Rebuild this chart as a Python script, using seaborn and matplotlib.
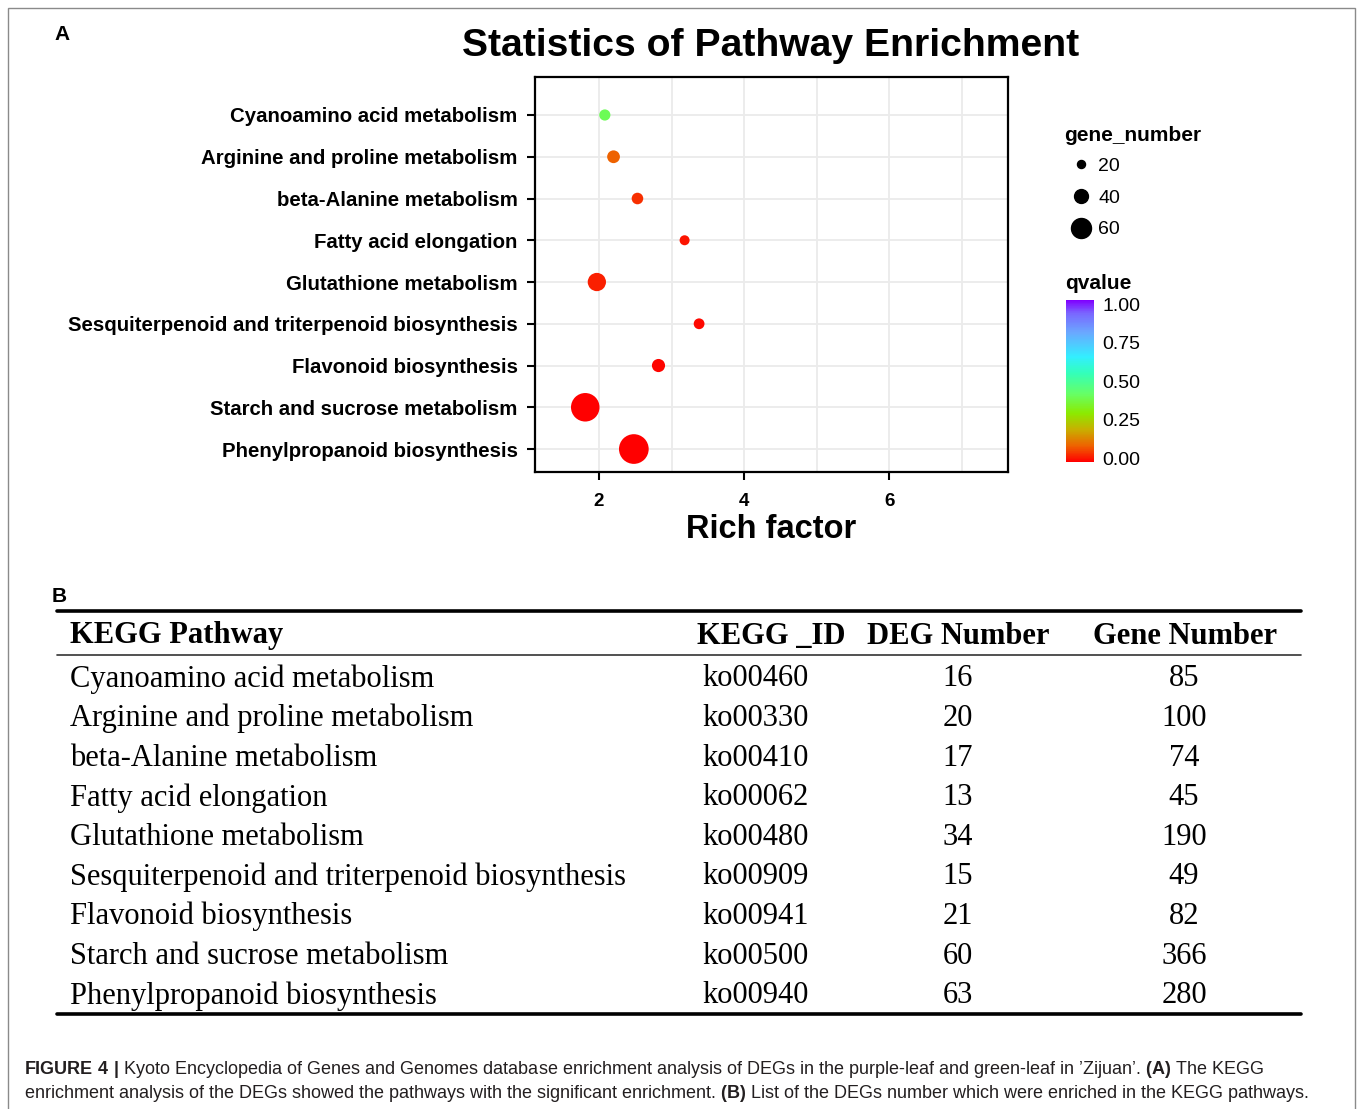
import numpy as np
import pandas as pd
import matplotlib
matplotlib.use("Agg")
import matplotlib.pyplot as plt
import seaborn as sns
from matplotlib.colors import LinearSegmentedColormap, Normalize
from matplotlib.cm import ScalarMappable
from matplotlib.lines import Line2D
from matplotlib.patches import Rectangle

# ---------------- data ----------------
pathways = [
    "Cyanoamino acid metabolism",
    "Arginine and proline metabolism",
    "beta-Alanine metabolism",
    "Fatty acid elongation",
    "Glutathione metabolism",
    "Sesquiterpenoid and triterpenoid biosynthesis",
    "Flavonoid biosynthesis",
    "Starch and sucrose metabolism",
    "Phenylpropanoid biosynthesis",
]
rich_factor = [2.08, 2.20, 2.53, 3.18, 1.97, 3.38, 2.82, 1.81, 2.48]
qvalue = [0.40, 0.10, 0.05, 0.02, 0.035, 0.01, 0.005, 0.0, 0.0]
gene_number = [16, 20, 17, 13, 34, 15, 21, 60, 63]

kegg_ids = ["ko00460", "ko00330", "ko00410", "ko00062", "ko00480",
            "ko00909", "ko00941", "ko00500", "ko00940"]
deg_numbers = [16, 20, 17, 13, 34, 15, 21, 60, 63]
total_gene_numbers = [85, 100, 74, 45, 190, 49, 82, 366, 280]

size_legend_values = [20, 40, 60]
q_ticks = [0.0, 0.25, 0.50, 0.75, 1.00]

# ---------------- style ----------------
sns.set_style("white")
plt.rcParams["font.family"] = ["Liberation Sans", "DejaVu Sans"]
plt.rcParams["mathtext.fontset"] = "custom"
plt.rcParams["mathtext.rm"] = "Liberation Sans"
plt.rcParams["mathtext.bf"] = "Liberation Sans:bold"
for k in ["text.color", "axes.labelcolor", "xtick.color", "ytick.color"]:
    plt.rcParams[k] = "black"

W, H = 1357, 1109
def fx(px): return px / W
def fy(py): return 1 - py / H

fig = plt.figure(figsize=(W / 100, H / 100), dpi=100)
fig.patch.set_facecolor("white")

# outer frame
fig.add_artist(Rectangle((fx(8), fy(1140)), fx(1355) - fx(8), fy(8) - fy(1140),
                         transform=fig.transFigure, fill=False,
                         edgecolor="#8a8a8a", lw=1.0, clip_on=False))

cmap = LinearSegmentedColormap.from_list("qv", [
    (0.00, "#ff0000"), (0.10, "#ee6400"), (0.20, "#c8b000"), (0.30, "#8cea00"),
    (0.42, "#66ff66"), (0.55, "#33ffbb"), (0.65, "#33eeff"), (0.80, "#6aa8ff"),
    (0.92, "#7a66ff"), (1.00, "#8000ff")])

# ---------------- panel A ----------------
fig.text(fx(54), fy(35), "A", fontsize=15, fontweight="bold", va="center", ha="left")
fig.text(fx(771), fy(46), "Statistics of Pathway Enrichment", ha="center", va="center",
         fontsize=28.2, fontweight="bold")

ax = fig.add_axes([fx(535), fy(472), (1008 - 535) / W, (472 - 77) / H])
df = pd.DataFrame({"pathway": pathways, "rich_factor": rich_factor,
                   "qvalue": qvalue, "gene_number": gene_number})
size_map = {v: ((10 + 0.394 * (v - 13)) / 1.389) ** 2 for v in sorted(set(gene_number))}
sns.scatterplot(data=df, x="rich_factor", y="pathway", hue="qvalue", palette=cmap,
                hue_norm=(0, 1), size="gene_number", sizes=size_map, legend=False,
                linewidth=0, ax=ax, zorder=3)

ax.set_xlim(1.117, 7.64)
ax.set_ylim(8.55, -0.91)
ax.set_yticks(range(len(pathways)))
ax.set_yticklabels(pathways, fontsize=14.7, fontweight="bold")
ax.set_xticks([2, 4, 6])
ax.set_xticks([3, 5, 7], minor=True)
ax.set_xticklabels(["2", "4", "6"], fontsize=13.5, fontweight="bold")
ax.grid(which="both", axis="x", color="#ebebeb", lw=1.3)
ax.grid(which="major", axis="y", color="#ebebeb", lw=1.3)
ax.set_axisbelow(True)
ax.tick_params(which="major", length=6, width=1.5, color="black", direction="out",
               left=True, bottom=True)
ax.tick_params(axis="y", pad=6.5)
ax.tick_params(axis="x", pad=9)
ax.tick_params(which="minor", length=0)
for s in ax.spines.values():
    s.set_color("black")
    s.set_linewidth(1.6)
ax.set_ylabel("")
ax.set_xlabel("Rich factor", fontsize=23.5, fontweight="bold", labelpad=3)

# size legend
handles = [Line2D([], [], marker="o", ls="", color="black", markersize=ms)
           for ms in [5.8, 10.0, 14.4]]
leg = fig.legend(handles, [str(v) for v in size_legend_values], title="gene_number",
                 loc="upper left", bbox_to_anchor=(fx(1056), fy(118)), frameon=False,
                 fontsize=14, title_fontproperties={"weight": "bold", "size": 15},
                 handletextpad=0.05, labelspacing=0.73, borderaxespad=0,
                 alignment="left", handlelength=1.72)
leg._legend_box.sep = 9

# colour bar
fig.text(fx(1065), fy(284), "qvalue", fontsize=15, fontweight="bold", va="center", ha="left")
cax = fig.add_axes([fx(1066), fy(462), 28 / W, (462 - 300) / H])
cb = fig.colorbar(ScalarMappable(norm=Normalize(-0.026, 1.03), cmap=cmap), cax=cax)
cb.outline.set_visible(False)
cb.set_ticks(q_ticks)
cb.set_ticklabels([f"{t:.2f}" for t in q_ticks])
cax.tick_params(direction="in", color="white", length=5, width=1, left=True, right=True,
                labelleft=False, labelright=True, labelsize=14, pad=6)

# ---------------- panel B ----------------
fig.text(fx(52), fy(597), "B", fontsize=15, fontweight="bold", va="center", ha="left")
serif = ["Liberation Serif", "DejaVu Serif"]
fig.add_artist(Line2D([fx(57), fx(1301)], [fy(611)] * 2, lw=2.6, color="black"))
fig.add_artist(Line2D([fx(57), fx(1301)], [fy(655)] * 2, lw=1.2, color="#333333"))
fig.add_artist(Line2D([fx(57), fx(1301)], [fy(1014)] * 2, lw=2.6, color="black"))

fs_tab = 22
hy = fy(636)
fig.text(fx(70), hy, "KEGG Pathway", family=serif, fontsize=fs_tab, fontweight="bold", va="center", ha="left")
fig.text(fx(697), hy, "KEGG _ID", family=serif, fontsize=fs_tab, fontweight="bold", va="center", ha="left")
fig.text(fx(958), hy, "DEG Number", family=serif, fontsize=fs_tab, fontweight="bold", va="center", ha="center")
fig.text(fx(1185), hy, "Gene Number", family=serif, fontsize=fs_tab, fontweight="bold", va="center", ha="center")

for i, (p, k, d, g) in enumerate(zip(pathways, kegg_ids, deg_numbers, total_gene_numbers)):
    y = fy(679 + i * 39.6)
    fig.text(fx(70), y, p, family=serif, fontsize=fs_tab, va="center", ha="left")
    fig.text(fx(702), y, k, family=serif, fontsize=fs_tab, va="center", ha="left")
    fig.text(fx(958), y, str(d), family=serif, fontsize=fs_tab, va="center", ha="center")
    fig.text(fx(1184), y, str(g), family=serif, fontsize=fs_tab, va="center", ha="center")

# ---------------- caption ----------------
cap_color = "#231f20"
line1 = (r"$\mathbf{FIGURE\ 4\ |}$ Kyoto Encyclopedia of Genes and Genomes database enrichment "
         r"analysis of DEGs in the purple-leaf and green-leaf in ’Zijuan’. $\mathbf{(A)}$ The KEGG")
line2 = (r"enrichment analysis of the DEGs showed the pathways with the significant enrichment. "
         r"$\mathbf{(B)}$ List of the DEGs number which were enriched in the KEGG pathways.")
fig.text(fx(24), fy(1069), line1, fontsize=13, color=cap_color, va="center", ha="left")
fig.text(fx(24), fy(1094), line2, fontsize=13, color=cap_color, va="center", ha="left")

fig.savefig("out.png", dpi=100, facecolor="white")
